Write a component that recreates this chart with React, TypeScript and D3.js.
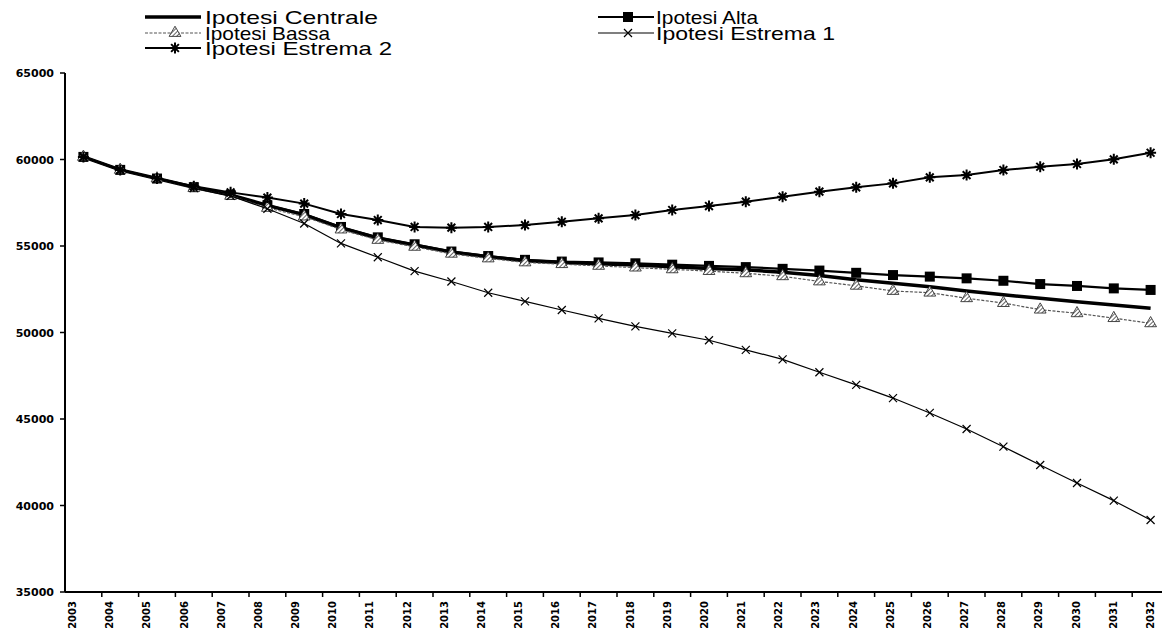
import React from "react";
import * as d3 from "d3";

const years = [
  "2003", "2004", "2005", "2006", "2007", "2008", "2009", "2010", "2011", "2012",
  "2013", "2014", "2015", "2016", "2017", "2018", "2019", "2020", "2021", "2022",
  "2023", "2024", "2025", "2026", "2027", "2028", "2029", "2030", "2031", "2032",
];

const centrale = [
  60150, 59400, 58900, 58400, 57950, 57350, 56800, 56050, 55450, 55050,
  54650, 54380, 54150, 54050, 53980, 53900, 53800, 53700, 53620, 53480,
  53300, 53050, 52850, 52650, 52400, 52180, 51980, 51780, 51590, 51400,
];
const alta = [
  60150, 59400, 58900, 58400, 57950, 57350, 56850, 56100, 55500, 55100,
  54680, 54420, 54200, 54100, 54050, 54000, 53920, 53850, 53780, 53680,
  53580, 53450, 53320, 53230, 53130, 52990, 52800, 52690, 52550, 52460,
];
const bassa = [
  60150, 59400, 58900, 58350, 57900, 57200, 56700, 55950, 55350, 54950,
  54550, 54280, 54050, 53950, 53850, 53750, 53650, 53550, 53420, 53250,
  52950, 52700, 52400, 52300, 51980, 51700, 51320, 51110, 50830, 50530,
];
const estrema1 = [
  60150, 59400, 58900, 58350, 57900, 57150, 56300, 55150, 54350, 53550,
  52950, 52300, 51800, 51300, 50820, 50350, 49950, 49550, 49000, 48450,
  47700, 46970, 46210, 45350, 44420, 43400, 42340, 41300, 40280, 39160,
];
const estrema2 = [
  60150, 59400, 58900, 58450, 58100, 57800, 57450, 56850, 56500, 56100,
  56060, 56100, 56210, 56400, 56600, 56790, 57080, 57310, 57560, 57850,
  58140, 58390, 58620, 58970, 59100, 59390, 59580, 59740, 60010, 60390,
];

const yTicks = [35000, 40000, 45000, 50000, 55000, 60000, 65000];
const legendLabels = [
  "Ipotesi Centrale",
  "Ipotesi Alta",
  "Ipotesi Bassa",
  "Ipotesi Estrema 1",
  "Ipotesi Estrema 2",
];

const W = 1162;
const H = 635;
const LEFT = 65;
const STEP = 36.8;
const BOTTOM = 592;
const TOP = 73;

function Square({ cx, cy }: { cx: number; cy: number }) {
  return <rect x={cx - 5} y={cy - 5} width={10} height={10} fill="#000" />;
}
function Hatch({ cx, cy }: { cx: number; cy: number }) {
  const tri = d3.symbol().type(d3.symbolTriangle).size(60)();
  return (
    <g transform={`translate(${cx},${cy})`}>
      <path d={tri || ""} fill="url(#hatch)" stroke="#333" strokeWidth={0.9} />
    </g>
  );
}
function Cross({ cx, cy }: { cx: number; cy: number }) {
  return (
    <path
      d={`M${cx - 4},${cy - 4}L${cx + 4},${cy + 4}M${cx - 4},${cy + 4}L${cx + 4},${cy - 4}`}
      stroke="#000"
      strokeWidth={1.2}
      fill="none"
    />
  );
}
function Star({ cx, cy }: { cx: number; cy: number }) {
  const r = 5.5;
  const d = [0, 45, 90, 135]
    .map((a) => {
      const t = (a * Math.PI) / 180;
      return `M${cx - r * Math.cos(t)},${cy - r * Math.sin(t)}L${cx + r * Math.cos(t)},${cy + r * Math.sin(t)}`;
    })
    .join("");
  return <path d={d} stroke="#000" strokeWidth={2} fill="none" />;
}

export default function App() {
  const x = d3
    .scalePoint<string>()
    .domain(years)
    .range([LEFT, LEFT + STEP * years.length])
    .padding(0.5);
  const xLabel = d3.scalePoint<string>().domain(years).range([72, 1150]);
  const y = d3.scaleLinear().domain([35000, 65000]).range([BOTTOM, TOP]);
  const line = d3
    .line<number>()
    .x((_, i) => x(years[i]) as number)
    .y((d) => y(d));

  const series = [
    { key: "c", data: centrale, stroke: "#000", width: 3.5, dash: undefined as string | undefined, M: null as any },
    { key: "a", data: alta, stroke: "#000", width: 2.2, dash: undefined, M: Square },
    { key: "b", data: bassa, stroke: "#555", width: 1.2, dash: "3,1.5", M: Hatch },
    { key: "e1", data: estrema1, stroke: "#000", width: 1.2, dash: undefined, M: Cross },
    { key: "e2", data: estrema2, stroke: "#000", width: 2, dash: undefined, M: Star },
  ];

  const boundaries = years.map((_, i) => LEFT + STEP * (i + 1));

  const legendPos = [
    { lx: 145, tx: 205, cy: 17, w: 173 },
    { lx: 598, tx: 656, cy: 17, w: 102 },
    { lx: 145, tx: 205, cy: 33, w: 125 },
    { lx: 598, tx: 656, cy: 33, w: 179 },
    { lx: 145, tx: 205, cy: 48, w: 187 },
  ];

  return (
    <svg
      width={W}
      height={H}
      style={{ position: "absolute", left: 0, top: 0, background: "#fff" }}
      fontFamily="'Liberation Sans', Arial, sans-serif"
    >
      <defs>
        <pattern id="hatch" width="3" height="3" patternUnits="userSpaceOnUse" patternTransform="rotate(45)">
          <rect width="3" height="3" fill="#fff" />
          <line x1="0" y1="0" x2="0" y2="3" stroke="#222" strokeWidth="1.4" />
        </pattern>
      </defs>
      <rect width={W} height={H} fill="#fff" />

      {/* Y axis */}
      <line x1={LEFT} y1={TOP} x2={LEFT} y2={BOTTOM} stroke="#000" strokeWidth={2} />
      {yTicks.map((t) => (
        <g key={t}>
          <line x1={LEFT - 5} y1={y(t)} x2={LEFT} y2={y(t)} stroke="#000" strokeWidth={1.5} />
          <text
            x={54}
            y={y(t) + 4}
            textAnchor="end"
            fontFamily="'DejaVu Sans', sans-serif"
            fontWeight="bold"
            fontSize={11}
            fill="#000"
          >
            {t}
          </text>
        </g>
      ))}

      {/* X axis */}
      <line x1={LEFT} y1={BOTTOM} x2={W} y2={BOTTOM} stroke="#000" strokeWidth={2} />
      {boundaries.map((b, i) => (
        <line key={i} x1={b} y1={BOTTOM} x2={b} y2={BOTTOM + 5} stroke="#000" strokeWidth={1.5} />
      ))}
      {years.map((yr) => {
        const cx = (xLabel(yr) as number) + 4;
        return (
          <text
            key={yr}
            transform={`translate(${cx},601) rotate(-90)`}
            textAnchor="end"
            fontFamily="'DejaVu Sans', sans-serif"
            fontWeight="bold"
            fontSize={10}
            fill="#000"
          >
            {yr}
          </text>
        );
      })}

      {/* Series */}
      {series.map((s) => (
        <g key={s.key}>
          <path
            d={line(s.data) || ""}
            fill="none"
            stroke={s.stroke}
            strokeWidth={s.width}
            strokeDasharray={s.dash}
            strokeLinejoin="round"
          />
          {s.M &&
            s.data.map((v, i) => {
              const M = s.M;
              return <M key={i} cx={x(years[i]) as number} cy={y(v)} />;
            })}
        </g>
      ))}

      {/* Legend */}
      {series.map((s, i) => {
        const p = legendPos[i];
        const M = s.M;
        return (
          <g key={"lg" + s.key}>
            <line
              x1={p.lx}
              y1={p.cy}
              x2={p.lx + 56}
              y2={p.cy}
              stroke={s.stroke}
              strokeWidth={s.width}
              strokeDasharray={s.dash}
            />
            {M && <M cx={p.lx + 30} cy={p.cy} />}
            <text
              x={p.tx}
              y={p.cy + 7}
              fontSize={18.5}
              textLength={p.w}
              lengthAdjust="spacingAndGlyphs"
              fill="#000"
            >
              {legendLabels[i]}
            </text>
          </g>
        );
      })}
    </svg>
  );
}
